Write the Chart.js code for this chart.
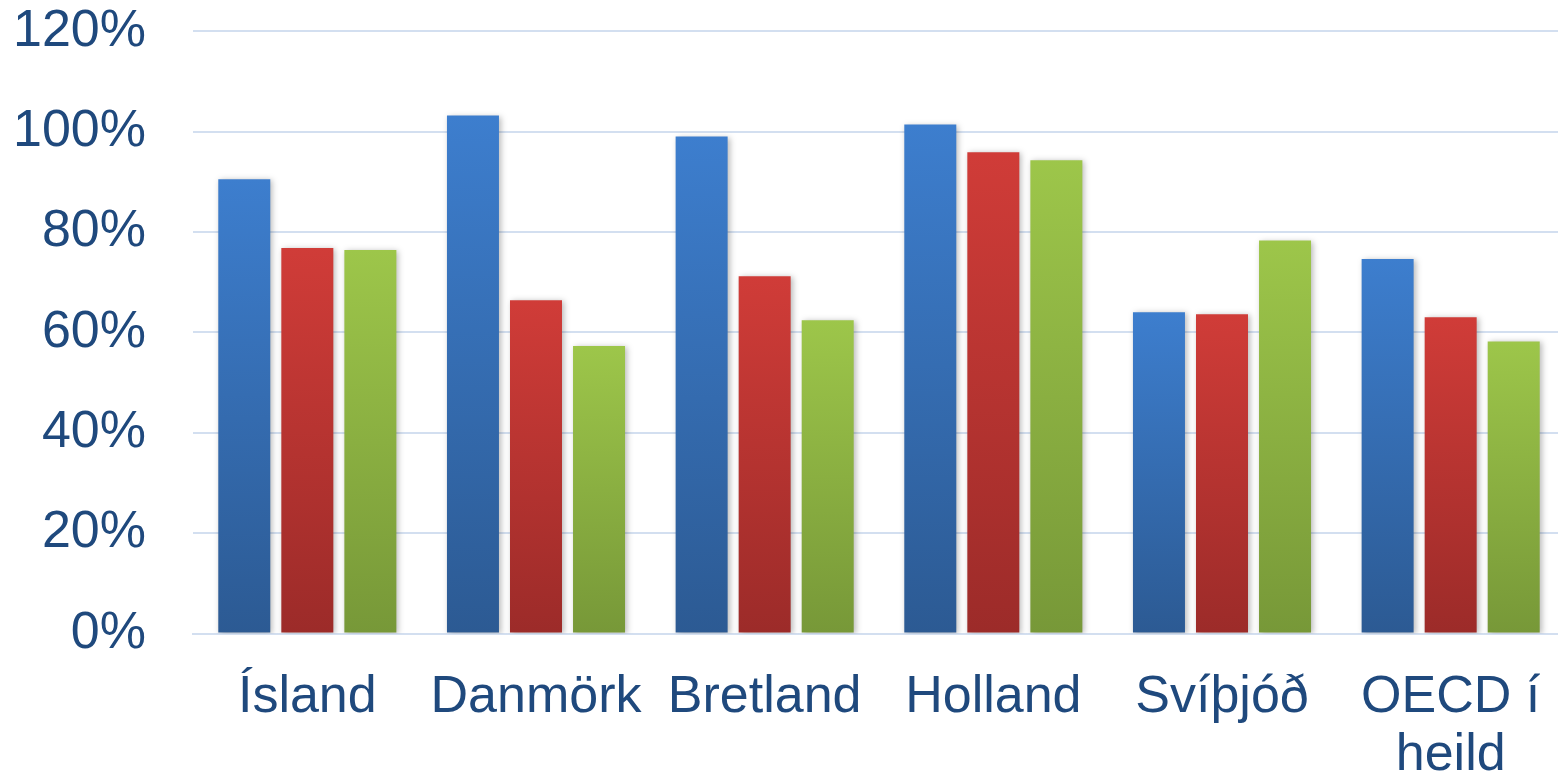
<!DOCTYPE html>
<html>
<head>
<meta charset="utf-8">
<script src="https://cdn.jsdelivr.net/npm/chart.js@4"></script>
<style>
  html, body { margin: 0; padding: 0; background: #ffffff; overflow: hidden; width: 1558px; height: 780px; }
  #wrap { width: 1558px; height: 780px; position: relative; overflow: hidden; }
  canvas { display: block; }
</style>
</head>
<body>
<div id="wrap"><canvas id="c" width="1565" height="780"></canvas></div>
<script>
const categories = ['Ísland', 'Danmörk', 'Bretland', 'Holland', 'Svíþjóð', ['OECD í', 'heild']];
const seriesBlue  = [90.5, 103.2, 99.0, 101.4, 64.0, 74.6];
const seriesRed   = [76.8, 66.4, 71.2, 95.9, 63.6, 63.0];
const seriesGreen = [76.4, 57.3, 62.4, 94.3, 78.3, 58.2];
const yTicks = [0, 20, 40, 60, 80, 100, 120];

const textColor = '#1F497D';
const gridColor = '#D3DFF0';

function barGradient(top, bottom) {
  return function (context) {
    const chart = context.chart;
    const ys = chart.scales && chart.scales.y;
    if (!ys || !chart.chartArea || context.parsed == null) return top;
    const yTop = ys.getPixelForValue(context.parsed.y);
    const yBase = ys.getPixelForValue(0);
    if (!isFinite(yTop) || !isFinite(yBase) || yTop === yBase) return top;
    const g = chart.ctx.createLinearGradient(0, yTop, 0, yBase);
    g.addColorStop(0, top);
    g.addColorStop(1, bottom);
    return g;
  };
}

const shadowPlugin = {
  id: 'barShadow',
  beforeDatasetsDraw(chart) {
    const ctx = chart.ctx;
    ctx.save();
    ctx.shadowColor = 'rgba(0,0,0,0.28)';
    ctx.shadowBlur = 6;
    ctx.shadowOffsetX = 2;
    ctx.shadowOffsetY = 1;
  },
  afterDatasetsDraw(chart) {
    chart.ctx.restore();
  }
};

new Chart(document.getElementById('c'), {
  type: 'bar',
  data: {
    labels: categories,
    datasets: [
      { data: seriesBlue,  backgroundColor: barGradient('#3D7ECE', '#2C5A93'), borderWidth: 0 },
      { data: seriesRed,   backgroundColor: barGradient('#D03C38', '#9C2B29'), borderWidth: 0 },
      { data: seriesGreen, backgroundColor: barGradient('#9DC64A', '#779838'), borderWidth: 0 }
    ]
  },
  plugins: [shadowPlugin],
  options: {
    responsive: false,
    animation: false,
    devicePixelRatio: 1,
    categoryPercentage: 0.827,
    barPercentage: 0.825,
    layout: { autoPadding: false, padding: { left: 13, right: 0, top: 0, bottom: -5 } },
    plugins: {
      legend: { display: false },
      tooltip: { enabled: false }
    },
    scales: {
      x: {
        grid: { display: true, color: 'rgba(0,0,0,0)', drawOnChartArea: false, drawTicks: true, tickLength: 35, tickColor: 'rgba(0,0,0,0)' },
        border: { display: true, color: gridColor, width: 2 },
        ticks: {
          color: textColor,
          padding: 0,
          maxRotation: 0,
          autoSkip: false,
          font: { family: '"Liberation Sans", Arial, sans-serif', size: 52, lineHeight: 1.12 }
        }
      },
      y: {
        min: 0,
        max: 120,
        afterBuildTicks(scale) { scale.ticks = yTicks.map(v => ({ value: v })); },
        grid: { color: gridColor, lineWidth: 2, drawTicks: true, tickLength: 47, tickColor: 'rgba(0,0,0,0)' },
        border: { display: false },
        ticks: {
          color: textColor,
          padding: 0,
          callback: v => v + '%',
          font: { family: '"Liberation Sans", Arial, sans-serif', size: 52 }
        }
      }
    }
  }
});
</script>
</body>
</html>
